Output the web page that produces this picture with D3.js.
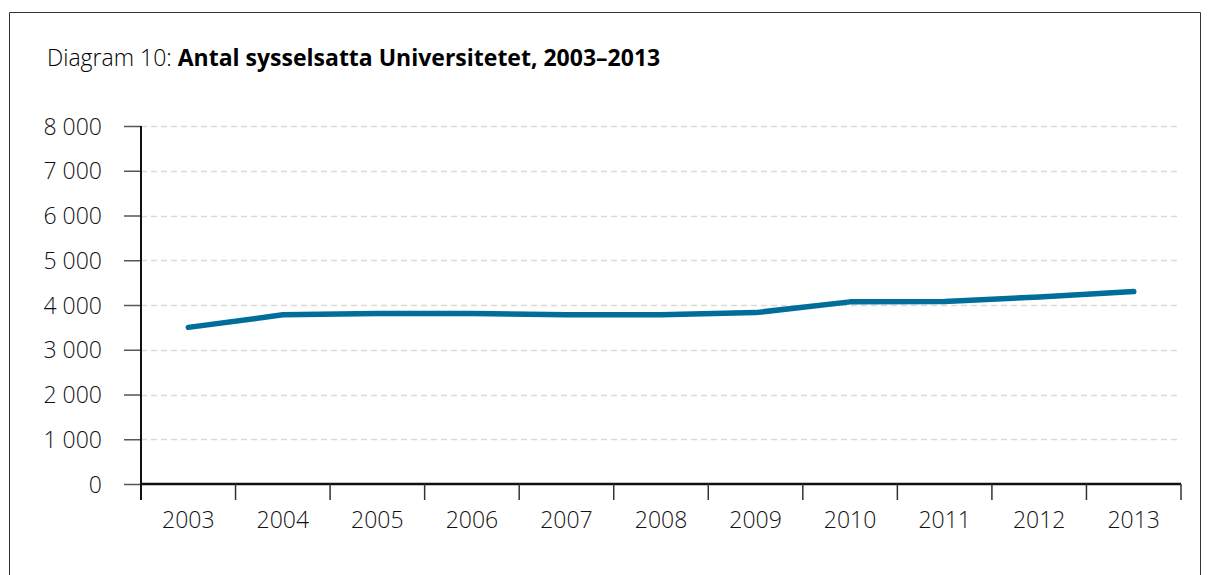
<!DOCTYPE html>
<html>
<head>
<meta charset="utf-8">
<script src="https://cdn.jsdelivr.net/npm/d3@7"></script>
<style>
body { margin:0; background:#fff; }
svg { display:block; }
.tick text { font-family:"Open Sans", "Noto Sans", sans-serif; font-weight:300; font-size:23px; fill:#111; }
.title { font-family:"Open Sans", "Noto Sans", sans-serif; font-size:23px; fill:#000; }
</style>
</head>
<body>
<svg id="chart"></svg>
<script>
var years = ["2003","2004","2005","2006","2007","2008","2009","2010","2011","2012","2013"]
var employed = [3500,3780,3810,3810,3780,3780,3830,4070,4080,4180,4300]
var yTicks = [0,1000,2000,3000,4000,5000,6000,7000,8000]

var screen = {width:1210,height:575}
var margins = {left:141,right:29,top:126,bottom:91}
var graph = {
    width:screen.width-margins.left-margins.right,
    height:screen.height-margins.top-margins.bottom
}

var svg = d3.select("#chart")
    .attr("width",screen.width)
    .attr("height",screen.height)

// frame round the whole figure
svg.append("path")
    .attr("d","M9.5,580 V12.5 H1200.5 V580")
    .attr("fill","none")
    .attr("stroke","#333")
    .attr("stroke-width",1)

var title = svg.append("text")
    .classed("title",true)
    .attr("x",47)
    .attr("y",66)
title.append("tspan").text("Diagram 10: ").attr("font-weight",300)
title.append("tspan").text("Antal sysselsatta Universitetet, 2003\u20132013").attr("font-weight",700)

var target = svg.append("g")
    .attr("transform","translate("+margins.left+","+margins.top+")")

var xScale = d3.scaleBand()
    .domain(years)
    .range([0,graph.width])

var yScale = d3.scaleLinear()
    .domain([0,8000])
    .range([graph.height,0])

var fmt = function(d)
{
    return d3.format(",")(d).replace(/,/g," ")
}

// gridlines
target.append("g")
    .selectAll("line")
    .data(yTicks.filter(function(d){return d>0}))
    .enter()
    .append("line")
    .attr("x1",0)
    .attr("x2",graph.width)
    .attr("y1",function(d){return Math.round(yScale(d))+0.5})
    .attr("y2",function(d){return Math.round(yScale(d))+0.5})
    .attr("stroke","#d9d9d9")
    .attr("stroke-width",1.5)
    .attr("stroke-dasharray","6,4")

// y axis
var yAxis = d3.axisLeft(yScale)
    .tickValues(yTicks)
    .tickFormat(fmt)
    .tickSize(17)
    .tickPadding(22)
var yG = target.append("g").call(yAxis)
yG.select(".domain").remove()
yG.selectAll(".tick line").attr("stroke","#555").attr("stroke-width",1.5)
yG.selectAll(".tick text").attr("dy","0.35em")
target.append("line")
    .attr("x1",0).attr("x2",0)
    .attr("y1",0).attr("y2",graph.height+16)
    .attr("stroke","#111").attr("stroke-width",2)

// x axis: ticks at the band edges, labels in the middle
var xAxisG = target.append("g")
    .attr("transform","translate(0,"+graph.height+")")
xAxisG.append("line")
    .attr("x1",0).attr("x2",graph.width)
    .attr("stroke","#111").attr("stroke-width",2.5)
xAxisG.selectAll("line.edge")
    .data(years.slice(1).concat(["end"]))
    .enter()
    .append("line")
    .classed("edge",true)
    .attr("x1",function(d,i){return xScale(years[0])+xScale.step()*(i+1)})
    .attr("x2",function(d,i){return xScale(years[0])+xScale.step()*(i+1)})
    .attr("y1",0).attr("y2",16)
    .attr("stroke","#333").attr("stroke-width",1.5)
var xAxis = d3.axisBottom(xScale).tickSize(0).tickPadding(28)
var xG = xAxisG.append("g").call(xAxis)
xG.select(".domain").remove()

// the line
var line = d3.line()
    .x(function(d,i){return xScale(years[i])+xScale.bandwidth()/2})
    .y(function(d){return yScale(d)})

target.append("path")
    .datum(employed)
    .attr("d",line)
    .attr("fill","none")
    .attr("stroke","#006d9b")
    .attr("stroke-width",5.5)
    .attr("stroke-linecap","round")
    .attr("stroke-linejoin","round")
</script>
</body>
</html>
